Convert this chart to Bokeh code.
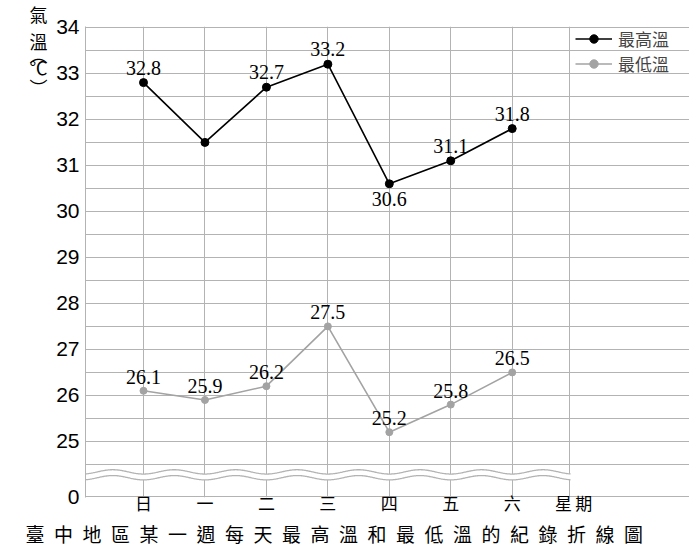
import numpy as np
from bokeh.plotting import figure
from bokeh.models import (FixedTicker, Legend, LegendItem, ColumnDataSource, LinearAxis,
                          Range1d, Title)
from bokeh.embed import file_html
from bokeh.resources import INLINE
from bokeh.core.properties import value

# ---- data ----
days = ["日", "一", "二", "三", "四", "五", "六"]
day_pos = [1, 2, 3, 4, 5, 6, 7]
high = [32.8, 31.5, 32.7, 33.2, 30.6, 31.1, 31.8]
low = [26.1, 25.9, 26.2, 27.5, 25.2, 25.8, 26.5]
high_text_above = ["32.8", "", "32.7", "33.2", "", "31.1", "31.8"]
high_text_below = ["", "", "", "", "30.6", "", ""]
low_text = ["26.1", "25.9", "26.2", "27.5", "25.2", "25.8", "26.5"]
y_ticks = [25, 26, 27, 28, 29, 30, 31, 32, 33, 34]
y_half = [24.5, 25.5, 26.5, 27.5, 28.5, 29.5, 30.5, 31.5, 32.5, 33.5]
zero_pos = 23.8          # where the "0" of the broken axis sits
box_x = (0.056, 7.93)    # extent of the drawn chart box
x_title_pos = 8.0
x_title = "星\u2009期"
caption = "臺中地區某一週每天最高溫和最低溫的紀錄折線圖"

GRID = "#b3b3b3"
LOWC = "#a3a3a3"
SERIF = "Liberation Serif"
SANS = "Liberation Sans"
CJK = "Noto Sans CJK TC"

p = figure(width=689, height=546, x_range=(box_x[0], 9.885), y_range=(23.78, 34.02),
           output_backend="svg", toolbar_location=None,
           min_border_left=85, min_border_right=0, min_border_top=26, min_border_bottom=49)
p.background_fill_color = "white"
p.border_fill_color = "white"
p.outline_line_color = None

# y axis
p.yaxis.ticker = FixedTicker(ticks=[zero_pos] + y_ticks, minor_ticks=y_half)
p.yaxis.major_label_overrides = {zero_pos: "0"}
p.yaxis.major_label_text_font = SANS
p.yaxis.major_label_text_font_size = "21px"
p.yaxis.major_label_text_color = "black"
p.yaxis.major_label_standoff = 0
p.yaxis.major_tick_line_color = None
p.yaxis.minor_tick_line_color = None
p.yaxis.axis_line_color = GRID

# y title: an outer left axis whose labels are the stacked characters
pad = "\u3000\u2009"
p.extra_y_ranges = {"lab": Range1d(0, 471)}
tk = {470: pad + "氣\n" + pad + "溫", 444: pad + "︵", 431: pad + "℃", 411: pad + "︶"}
yt = LinearAxis(y_range_name="lab", ticker=FixedTicker(ticks=list(tk.keys())),
                major_label_overrides=tk,
                major_label_text_font=CJK, major_label_text_font_size="18px",
                major_label_text_line_height=1.04, major_label_text_color="black",
                major_label_standoff=0, major_tick_line_color=None,
                minor_tick_line_color=None, axis_line_color=None)
p.add_layout(yt, "left")

# x axis
p.xaxis.ticker = FixedTicker(ticks=day_pos + [x_title_pos])
ov = {d: s for d, s in zip(day_pos, days)}
ov[x_title_pos] = x_title
p.xaxis.major_label_overrides = ov
p.xaxis.bounds = (box_x[0], x_title_pos)
p.xaxis.major_label_text_font = CJK
p.xaxis.major_label_text_font_size = "17px"
p.xaxis.major_label_text_color = "black"
p.xaxis.major_label_standoff = -14
p.xaxis.major_tick_line_color = None
p.xaxis.minor_tick_line_color = None
p.xaxis.axis_line_color = None

# caption below the axis, letter-spaced, left edge pulled to x≈25
p.add_layout(Title(text="\u2002".join(list(caption)), align="left", offset=-60,
                   standoff=0, text_font=CJK, text_font_size="19px",
                   text_font_style="normal", text_color="black"), "below")

# grid (also forms the chart box)
p.ygrid.ticker = FixedTicker(ticks=[zero_pos] + y_ticks, minor_ticks=y_half)
p.ygrid.grid_line_color = GRID
p.ygrid.minor_grid_line_color = GRID
p.ygrid.bounds = box_x
p.xgrid.ticker = FixedTicker(ticks=day_pos + [box_x[1]])
p.xgrid.grid_line_color = GRID
p.xgrid.bounds = (zero_pos, 34.0)

# axis-break waves (decoration)
wx = np.linspace(0.0, 7.95, 600)
w_up = 24.337 - 0.047 * np.cos(2 * np.pi * wx)
w_dn = 24.210 - 0.047 * np.cos(2 * np.pi * wx)
p.varea(x=wx, y1=w_dn, y2=w_up, fill_color="white")
p.line(wx, w_up, line_color=GRID, line_width=1.3)
p.line(wx, w_dn, line_color=GRID, line_width=1.3)

src = ColumnDataSource(dict(x=day_pos, high=high, low=low, ha=high_text_above,
                            hb=high_text_below, lt=low_text))

hl = p.line("x", "high", source=src, line_color="black", line_width=1.6)
hc = p.scatter("x", "high", source=src, size=8, fill_color="black", line_color="black")
ll = p.line("x", "low", source=src, line_color=LOWC, line_width=1.6)
lc = p.scatter("x", "low", source=src, size=7, fill_color=LOWC, line_color=LOWC)

p.text("x", "high", text="ha", source=src, text_font=value(SERIF), text_font_size="20px",
       text_align="center", text_baseline="middle", y_offset=-15, text_color="black")
p.text("x", "high", text="hb", source=src, text_font=value(SERIF), text_font_size="20px",
       text_align="center", text_baseline="middle", y_offset=15, text_color="black")
p.text("x", "low", text="lt", source=src, text_font=value(SERIF), text_font_size="20px",
       text_align="center", text_baseline="middle", y_offset=-14, text_color="black")

legend = Legend(items=[LegendItem(label="最高溫", renderers=[hl, hc]),
                       LegendItem(label="最低溫", renderers=[ll, lc])],
                location=(490, 421), padding=0, margin=0, spacing=-2,
                glyph_width=37, glyph_height=21, label_height=21, label_standoff=6,
                label_text_font=CJK, label_text_font_size="17px",
                background_fill_alpha=0, border_line_color=None)
p.add_layout(legend)

open("out.html", "w").write(file_html(p, INLINE))
